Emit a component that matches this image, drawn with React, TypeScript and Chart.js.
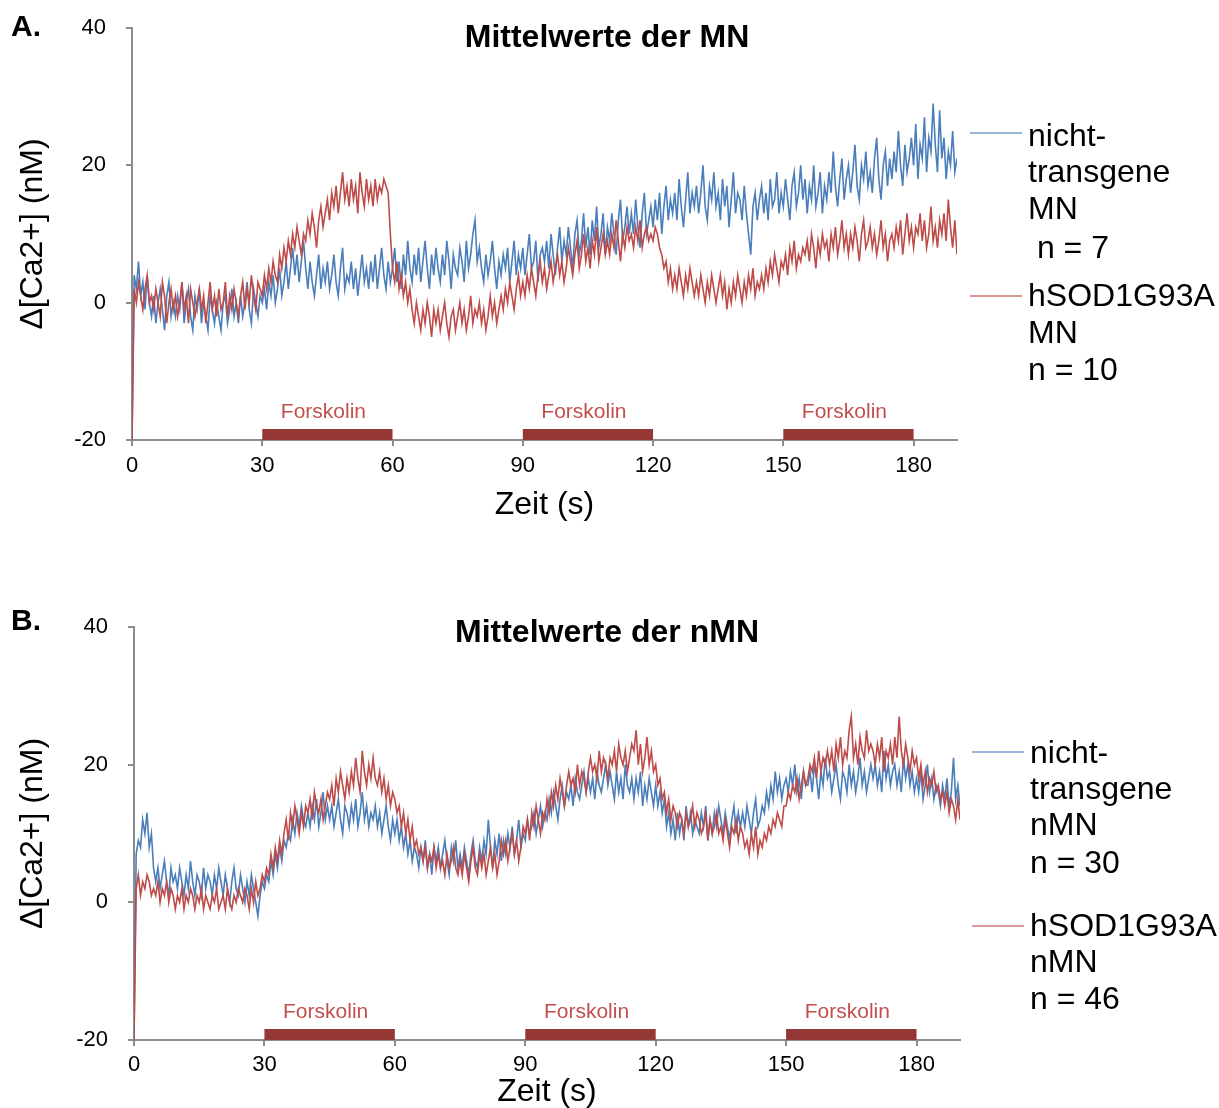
import React, { useEffect, useRef } from 'react';
import { Chart, registerables } from 'chart.js';

Chart.register(...registerables);

const FONT = '"Liberation Sans", Arial, sans-serif';

// sampling interval of the traces (s)
const TIME_STEP = 0.5;
const xTickValues = [0, 30, 60, 90, 120, 150, 180];
const yTickValues = [-20, 0, 20, 40];
const forskolinIntervals = [[30, 60], [90, 120], [150, 180]];
const forskolinLabel = 'Forskolin';

// Panel A: Mittelwerte der MN
const mnNichtTransgene = [
  -20,4,2,6,1,3,-1,4,0,-2,
  1,-3,0,2,-1,-4,1,3,-2,0,
  -2,1,-1,3,-3,0,2,-2,-4,1,
  -1,2,-3,0,-2,-4,1,-1,-3,0,
  -2,-4,0,1,-3,-1,2,-2,0,-3,
  1,-2,0,3,-1,-3,2,0,-2,1,
  0,2,-1,3,1,4,0,2,5,1,
  3,6,2,5,8,4,7,3,6,9,
  5,2,6,3,1,4,7,2,5,3,
  6,2,4,7,3,1,5,8,2,4,
  3,6,2,5,1,4,7,3,5,2,
  6,3,7,2,5,8,4,2,6,3,
  5,8,3,6,2,7,4,9,5,3,
  7,4,8,3,6,9,5,2,7,4,
  8,5,3,7,4,9,6,2,7,5,
  4,8,6,3,9,5,7,10,12,6,
  8,5,3,7,4,6,9,5,2,6,
  4,7,5,8,3,6,9,4,7,5,
  8,4,7,10,5,6,9,3,7,8,
  6,9,5,10,7,4,8,11,6,9,
  7,11,8,5,10,12,7,9,13,8,
  11,7,12,9,14,8,10,13,7,11,
  9,13,10,7,12,15,9,11,14,10,
  13,10,15,11,8,13,16,10,12,14,
  11,15,12,16,10,14,17,12,15,13,
  16,12,18,14,11,15,19,13,16,14,
  17,13,16,20,14,12,17,15,19,14,
  16,12,18,14,17,11,15,19,13,16,
  15,12,17,13,10,7,14,16,12,15,
  17,13,16,12,18,14,15,19,13,16,
  14,18,15,12,17,19,14,16,20,15,
  18,13,17,15,20,14,16,19,13,17,
  15,19,16,22,17,14,18,21,15,18,
  20,16,19,23,17,15,20,18,22,17,
  19,16,21,24,18,15,20,22,17,21,
  18,22,19,25,20,17,23,19,21,24,
  20,26,18,23,21,27,19,24,22,29,
  23,19,28,21,24,18,22,20,25,19,
  21,
];

const mnHSOD1 = [
  -20,2,0,3,1,-1,2,4,0,1,
  -1,2,0,-2,3,1,-3,0,2,-1,
  1,-2,0,3,-1,1,-3,2,0,-2,
  0,2,-1,1,-3,0,3,-1,1,-2,
  2,-1,0,3,-2,1,-1,2,0,-2,
  1,3,-1,2,0,4,1,-1,3,2,
  1,4,2,5,3,6,4,3,7,5,
  8,6,9,7,10,8,11,9,7,10,
  9,12,10,13,11,8,12,14,11,13,
  15,12,16,14,17,13,16,19,15,17,
  14,18,15,17,13,19,16,14,18,15,
  17,14,18,15,17,16,18,17,16,10,
  5,3,6,2,4,1,3,0,2,-1,
  -3,0,-2,-4,-1,-3,0,-2,-5,-1,
  -3,-1,-4,-2,0,-3,-5,-2,-1,-4,
  -2,0,-3,-1,-4,-2,1,-3,-1,-2,
  0,-3,-1,-4,-2,1,-2,0,-3,-1,
  1,-1,2,0,3,1,-1,2,4,1,
  3,1,4,2,5,3,1,4,6,3,
  5,2,4,6,3,5,7,4,6,3,
  5,8,6,4,7,9,5,7,10,6,
  8,5,9,7,11,6,8,10,7,9,
  7,10,8,12,9,6,10,8,11,9,
  10,8,11,9,12,8,10,11,9,10,
  9,11,10,8,7,5,6,3,5,2,
  4,2,5,3,1,4,2,5,3,1,
  3,1,4,2,0,3,1,4,2,0,
  2,4,1,3,-1,2,0,3,1,4,
  2,0,3,1,4,2,5,1,3,2,
  4,2,5,3,6,4,7,5,3,6,
  5,7,4,8,6,9,5,7,6,8,
  7,9,6,10,8,5,9,7,10,8,
  9,6,10,8,11,7,9,12,8,10,
  7,10,8,11,9,6,10,12,8,9,
  11,8,10,7,9,12,8,10,6,9,
  10,8,11,9,12,7,10,13,9,11,
  8,11,10,13,9,12,8,10,14,9,
  11,8,12,10,13,9,15,11,8,12,
  7,
];

// Panel B: Mittelwerte der nMN
const nmnNichtTransgene = [
  -20,7,9,8,12,10,13,8,10,5,
  3,5,2,4,6,3,1,5,3,4,
  2,5,3,1,4,2,6,3,1,4,
  3,1,5,2,4,3,1,4,2,5,
  3,1,4,2,0,3,5,2,1,4,
  2,0,3,1,4,2,0,-2,1,3,
  2,4,3,6,4,7,5,8,6,9,
  8,10,9,12,10,13,11,14,12,11,
  13,11,14,12,15,11,13,16,12,14,
  12,14,11,13,15,12,10,14,13,11,
  14,12,15,11,13,16,12,14,11,13,
  12,14,11,13,10,12,14,11,9,12,
  10,12,9,11,8,10,7,9,6,8,
  7,5,8,6,9,5,7,4,8,6,
  8,5,7,9,6,4,8,6,9,5,
  7,5,8,6,4,7,9,6,5,8,
  6,9,7,12,8,5,9,7,10,6,
  9,7,10,8,11,7,9,12,8,10,
  9,12,10,11,13,10,12,14,11,13,
  12,15,13,16,14,12,15,17,14,16,
  15,17,14,18,16,15,17,19,16,18,
  16,18,15,19,17,16,18,20,17,19,
  17,15,19,16,18,15,20,17,16,18,
  15,18,16,19,14,17,15,18,16,14,
  17,14,16,13,15,11,13,10,12,9,
  13,10,12,9,14,11,13,10,12,11,
  10,13,11,14,9,12,10,13,11,14,
  12,10,13,11,9,12,14,10,13,11,
  13,11,14,12,10,13,15,11,12,14,
  13,16,14,17,15,19,16,18,15,17,
  18,16,19,17,20,16,18,15,19,17,
  17,19,16,20,18,15,19,17,21,18,
  19,16,18,20,17,15,19,18,16,20,
  17,19,16,18,21,17,19,16,18,20,
  18,20,17,19,16,22,18,20,17,19,
  20,17,19,16,21,18,20,17,19,16,
  18,16,19,15,17,20,16,18,15,17,
  16,14,17,15,18,14,16,21,15,17,
  14,
];

const nmnHSOD1 = [
  -20,2,4,1,3,2,4,3,1,2,
  1,3,0,2,1,3,0,2,1,-1,
  1,0,2,-1,1,0,2,1,-1,1,
  0,2,-1,1,0,-1,1,0,2,-1,
  0,1,-1,2,0,-1,1,0,2,1,
  0,2,1,-1,2,0,3,1,2,4,
  3,5,4,7,5,8,6,9,7,10,
  12,9,13,11,14,12,10,13,11,14,
  13,15,12,16,14,13,15,12,14,16,
  15,17,14,18,16,19,17,15,18,16,
  19,17,21,18,16,22,19,17,20,18,
  21,18,17,19,16,18,15,17,14,16,
  15,13,14,11,13,10,12,9,11,8,
  9,7,8,6,8,5,7,6,8,5,
  7,5,6,4,7,5,6,8,5,4,
  6,4,7,5,3,6,8,5,4,7,
  5,7,4,6,8,5,7,4,6,9,
  7,9,6,8,10,7,9,6,8,11,
  10,12,9,13,11,14,12,10,13,12,
  15,13,16,14,17,15,18,16,14,17,
  19,17,18,16,20,17,19,18,16,19,
  21,19,20,18,22,19,21,20,18,21,
  20,22,19,23,21,20,22,19,21,23,
  22,25,20,23,19,21,24,20,22,19,
  20,17,18,15,16,13,15,12,14,13,
  11,13,12,10,13,11,12,14,11,13,
  12,10,11,13,9,12,10,11,13,10,
  11,9,12,10,8,11,10,12,9,11,
  10,8,9,7,10,8,11,7,9,8,
  10,9,11,10,12,11,13,12,11,14,
  14,16,15,17,16,18,15,17,19,17,
  18,20,19,21,18,22,19,21,20,22,
  20,22,19,23,21,24,20,22,21,25,
  27,21,23,20,24,22,21,25,22,23,
  22,20,23,21,24,19,22,21,23,20,
  24,21,27,22,20,23,21,19,22,20,
  21,18,20,17,19,16,18,17,19,16,
  17,15,16,14,16,13,15,14,12,15,
  12,
];

const legendA = [
  ['nicht-', 'transgene', 'MN', ' n = 7'],
  ['hSOD1G93A', 'MN', 'n = 10'],
];
const legendB = [
  ['nicht-', 'transgene', 'nMN', 'n = 30'],
  ['hSOD1G93A', 'nMN', 'n = 46'],
];

const BLUE = '#4a7ebb';
const RED = '#be4b48';
const BAR = '#953735';
const AXIS = '#8c8c8c';

type LegendLayout = {
  lineX0: number; lineX1: number; textX: number;
  entryLineY: number[]; entryTextY: number[][];
};

type PanelProps = {
  top: number;
  height: number;
  letter: string;
  letterY: number;
  title: string;
  titleY: number;
  blue: number[];
  red: number[];
  legend: string[][];
  legendLayout: LegendLayout;
  padTop: number;
  padRight: number;
  yWidth: number;
  xHeight: number;
  xTitlePad: number;
  xTickPad: number;
};

function toPoints(values: number[]) {
  return values.map((v, i) => ({ x: i * TIME_STEP, y: v }));
}

function Panel(p: PanelProps) {
  const ref = useRef<HTMLCanvasElement | null>(null);
  useEffect(() => {
    if (!ref.current) return;
    const overlay = {
      id: 'overlay',
      afterDraw(chart: any) {
        const ctx = chart.ctx;
        const xs = chart.scales.x;
        const ys = chart.scales.y;
        ctx.save();
        ctx.textBaseline = 'middle';
        // panel letter
        ctx.fillStyle = '#000';
        ctx.textAlign = 'left';
        ctx.font = `bold 30px ${FONT}`;
        ctx.fillText(p.letter, 11, p.letterY);
        // title
        ctx.textAlign = 'center';
        ctx.font = `bold 32px ${FONT}`;
        ctx.fillText(p.title, 607, p.titleY);
        // forskolin labels
        ctx.font = `21px ${FONT}`;
        ctx.fillStyle = '#c0504d';
        forskolinIntervals.forEach(([a, b]) => {
          const cx = (xs.getPixelForValue(a) + xs.getPixelForValue(b)) / 2 - 4;
          ctx.fillText(forskolinLabel, cx, ys.getPixelForValue(-16));
        });
        // legend
        const L = p.legendLayout;
        const colors = [BLUE, RED];
        ctx.textAlign = 'left';
        ctx.font = `32px ${FONT}`;
        p.legend.forEach((lines, i) => {
          ctx.strokeStyle = colors[i];
          ctx.globalAlpha = 0.75;
          ctx.lineWidth = 1.5;
          ctx.beginPath();
          ctx.moveTo(L.lineX0, L.entryLineY[i]);
          ctx.lineTo(L.lineX1, L.entryLineY[i]);
          ctx.stroke();
          ctx.globalAlpha = 1;
          ctx.fillStyle = '#000';
          lines.forEach((t, j) => {
            ctx.fillText(t, L.textX, L.entryTextY[i][j]);
          });
        });
        ctx.restore();
      },
    };

    const barDatasets = forskolinIntervals.map(([a, b]) => ({
      type: 'line' as const,
      data: [{ x: a, y: -19.2 }, { x: b, y: -19.2 }],
      borderColor: BAR,
      borderWidth: 11,
      borderCapStyle: 'butt' as const,
      pointRadius: 0,
      order: 3,
    }));

    const chart = new Chart(ref.current, {
      type: 'line',
      data: {
        datasets: [
          {
            label: 'nicht-transgene',
            data: toPoints(p.blue),
            borderColor: BLUE,
            borderWidth: 1.6,
            pointRadius: 0,
            tension: 0,
            order: 2,
          },
          {
            label: 'hSOD1G93A',
            data: toPoints(p.red),
            borderColor: RED,
            borderWidth: 1.6,
            pointRadius: 0,
            tension: 0,
            order: 1,
          },
          ...barDatasets,
        ] as any,
      },
      options: {
        responsive: false,
        animation: false,
        events: [],
        layout: { padding: { top: p.padTop, right: p.padRight, left: 0, bottom: 0 } },
        plugins: { legend: { display: false }, title: { display: false }, tooltip: { enabled: false } },
        scales: {
          x: {
            type: 'linear',
            min: 0,
            max: 190,
            afterBuildTicks: (s: any) => { s.ticks = xTickValues.map((v) => ({ value: v })); },
            afterFit: (s: any) => { s.height = p.xHeight; },
            ticks: { color: '#000', font: { size: 22, family: FONT }, padding: p.xTickPad, maxRotation: 0, autoSkip: false },
            grid: { display: true, drawOnChartArea: false, drawTicks: true, tickLength: 6, color: AXIS, lineWidth: 2 },
            border: { display: true, color: AXIS, width: 2 },
            title: { display: true, text: 'Zeit (s)', color: '#000', font: { size: 32, family: FONT, lineHeight: 1 }, padding: { top: 0, bottom: p.xTitlePad } },
          },
          y: {
            type: 'linear',
            min: -20,
            max: 40,
            afterBuildTicks: (s: any) => { s.ticks = yTickValues.map((v) => ({ value: v })); },
            afterFit: (s: any) => { s.width = p.yWidth; s.paddingTop = 0; s.paddingBottom = 0; },
            ticks: { color: '#000', font: { size: 22, family: FONT }, padding: 20, autoSkip: false },
            grid: { display: true, drawOnChartArea: false, drawTicks: true, tickLength: 6, color: AXIS, lineWidth: 2 },
            border: { display: true, color: AXIS, width: 2 },
            title: { display: true, text: 'Δ[Ca2+] (nM)', color: '#000', font: { size: 32, family: FONT, lineHeight: 1 }, padding: { top: 17, bottom: 0 } },
          },
        },
      } as any,
      plugins: [overlay],
    });
    return () => chart.destroy();
  }, []);
  return (
    <canvas
      ref={ref}
      width={1219}
      height={p.height}
      style={{ position: 'absolute', left: 0, top: p.top, width: 1219, height: p.height, display: 'block' }}
    />
  );
}

export default function App() {
  useEffect(() => {
    document.body.style.margin = '0';
    document.body.style.background = '#fff';
  }, []);
  return (
    <div style={{ position: 'absolute', left: 0, top: 0, width: 1219, height: 1108, background: '#fff' }}>
      <Panel
        top={0}
        height={554}
        letter="A."
        letterY={28}
        title="Mittelwerte der MN"
        titleY={38}
        blue={mnNichtTransgene}
        red={mnHSOD1}
        legend={legendA}
        legendLayout={{
          lineX0: 970, lineX1: 1022, textX: 1028,
          entryLineY: [133, 296],
          entryTextY: [[137, 173, 210, 249], [297, 334, 371]],
        }}
        padTop={28}
        padRight={262}
        yWidth={132}
        xHeight={114}
        xTitlePad={33}
        xTickPad={7}
      />
      <Panel
        top={554}
        height={554}
        letter="B."
        letterY={68}
        title="Mittelwerte der nMN"
        titleY={79}
        blue={nmnNichtTransgene}
        red={nmnHSOD1}
        legend={legendB}
        legendLayout={{
          lineX0: 972, lineX1: 1024, textX: 1030,
          entryLineY: [198, 372],
          entryTextY: [[200, 236, 272, 310], [373, 409, 446]],
        }}
        padTop={73}
        padRight={259}
        yWidth={134}
        xHeight={68}
        xTitlePad={0}
        xTickPad={6}
      />
    </div>
  );
}
